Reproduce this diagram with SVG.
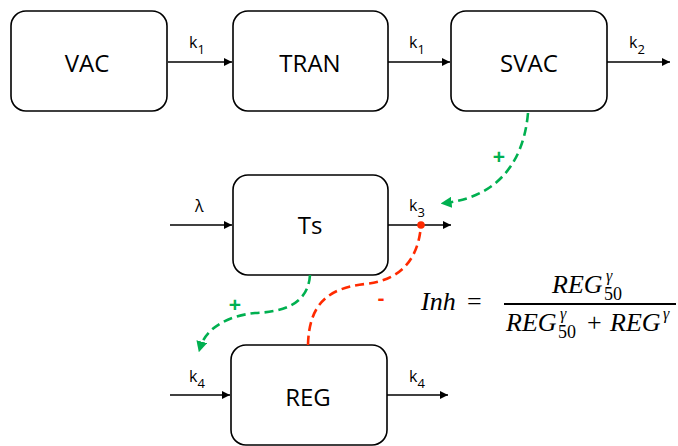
<svg xmlns="http://www.w3.org/2000/svg" width="678" height="446" viewBox="0 0 678 446">
<style>
.box{fill:#fff;stroke:#000;stroke-width:1.6}
.name{font-family:"Open Sans","Liberation Sans",sans-serif;font-size:24px;fill:#000;text-anchor:middle}
.lbl{font-family:"Open Sans","Liberation Sans",sans-serif;font-size:16px;fill:#000}
.sub{font-size:13px}
.flow{stroke:#000;stroke-width:1.6;fill:none;marker-end:url(#ab)}
.green{stroke:#00B050;stroke-width:2.6;fill:none;stroke-dasharray:9,5;marker-end:url(#ag)}
.red{stroke:#FF2A00;stroke-width:2.6;fill:none;stroke-dasharray:9,5}
.sign{font-family:"Liberation Sans",sans-serif;font-weight:bold;font-size:21px;text-anchor:middle}
.math{font-family:"Liberation Serif","DejaVu Serif",serif;font-size:26px;fill:#000}
.mi{font-style:italic}
.ms{font-size:18px}
.mg{font-size:16px}
</style>
<defs>
<marker id="ab" viewBox="0 0 10 10" refX="10" refY="5" markerWidth="8" markerHeight="8" markerUnits="userSpaceOnUse" orient="auto"><path d="M0,0L10,5L0,10z" fill="#000"/></marker>
<marker id="ag" viewBox="0 0 10 10" refX="6" refY="5" markerWidth="11" markerHeight="11" markerUnits="userSpaceOnUse" orient="auto"><path d="M0,0L10,5L0,10z" fill="#00B050"/></marker>
</defs>
<g id="VAC"><rect class="box" x="11" y="11" width="156" height="100" rx="15"/><text class="name" x="87" y="72">VAC</text></g>
<g id="TRAN"><rect class="box" x="233" y="11" width="155" height="100" rx="15"/><text class="name" x="310" y="72">TRAN</text></g>
<g id="SVAC"><rect class="box" x="451" y="11" width="156" height="100" rx="15"/><text class="name" x="529" y="72">SVAC</text></g>
<g id="Ts"><rect class="box" x="233" y="175" width="155" height="100" rx="15"/><text class="name" x="310" y="234">Ts</text></g>
<g id="REG"><rect class="box" x="231" y="345" width="156" height="100" rx="15"/><text class="name" x="308" y="406">REG</text></g>
<g id="connectors">
<path class="flow" d="M168,62H232"/>
<path class="flow" d="M388,62H450"/>
<path class="flow" d="M607,62H670"/>
<path class="flow" d="M170,225H232"/>
<path class="flow" d="M388,225H451"/>
<path class="flow" d="M170,395H230"/>
<path class="flow" d="M387,395H448"/>
<path class="green" d="M528,113C523,170 490,198 445,203"/>
<path class="green" d="M310,275C308,306 280,312 255,313C225,316 205,330 200,348"/>
<path class="red" d="M308,345C309,302 330,288 365,284C395,281 418,265 421,225"/>
<circle cx="421" cy="225" r="3.8" fill="#FF2A00"/>
<text class="sign" x="499" y="164" fill="#00B050">+</text>
<text class="sign" x="235" y="312" fill="#00B050">+</text>
<text class="sign" x="381" y="305" fill="#FF2A00">-</text>
</g>
<g id="labels">
<text class="lbl" x="189" y="48">k<tspan class="sub" dy="6">1</tspan></text>
<text class="lbl" x="409" y="48">k<tspan class="sub" dy="6">1</tspan></text>
<text class="lbl" x="629" y="48">k<tspan class="sub" dy="6">2</tspan></text>
<text class="lbl" x="195" y="212">λ</text>
<text class="lbl" x="409" y="211">k<tspan class="sub" dy="6">3</tspan></text>
<text class="lbl" x="189" y="382">k<tspan class="sub" dy="6">4</tspan></text>
<text class="lbl" x="409" y="382">k<tspan class="sub" dy="6">4</tspan></text>
</g>
<g id="formula" class="math">
<text x="421" y="310" class="mi">Inh</text>
<text x="467" y="310">=</text>
<line x1="504" y1="304" x2="676" y2="304" stroke="#000" stroke-width="1.8"/>
<text x="552" y="293" class="mi">REG</text>
<text x="606" y="281" class="mi mg">γ</text>
<text x="604" y="300" class="ms">50</text>
<text x="506" y="331" class="mi">REG</text>
<text x="560" y="319" class="mi mg">γ</text>
<text x="558" y="338" class="ms">50</text>
<text x="587" y="331">+</text>
<text x="610" y="331" class="mi">REG</text>
<text x="663" y="319" class="mi mg">γ</text>
</g>
</svg>
